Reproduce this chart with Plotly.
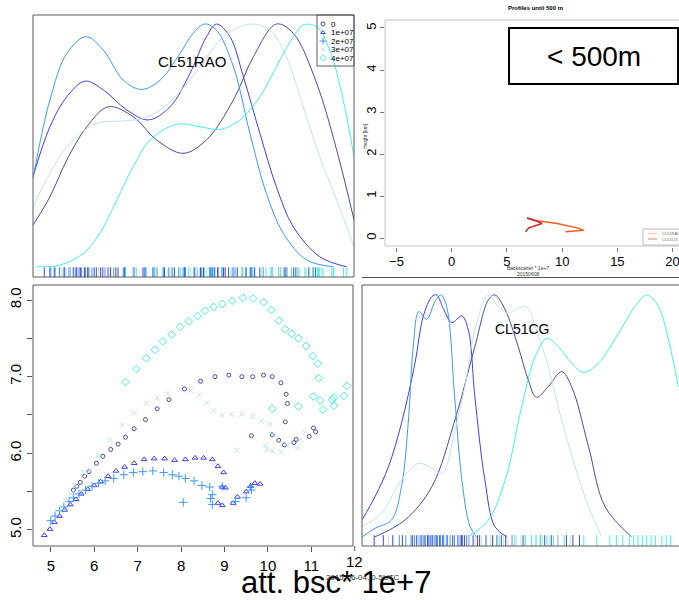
import plotly.graph_objects as go

W, H = 679, 600


def px(x):
    return x / W


def py(y):
    return 1 - y / H


FONT = "Liberation Sans, Arial, sans-serif"

series_names = ["0", "1e+07", "2e+07", "3e+07", "4e+07"]
series_colors = ["#4b4b9e", "#3d3df0", "#3d98f5", "#c4e2ec", "#3ff2f2"]
scatter_symbols = ["circle-open", "triangle-up-open", "cross-thin-open", "x-thin-open", "diamond-open"]
scatter_sizes = [4, 5, 6, 5, 6]

# ---------------- scatter panel (att. bsc * 1e+7) ----------------
s0_x = [5.52, 5.6, 5.68, 5.78, 5.88, 6.05, 6.2, 6.38, 6.55, 6.72, 6.92, 7.18, 7.45, 7.72, 8.08,
        8.45, 8.78, 9.1, 9.4, 9.65, 9.9, 10.1, 10.3, 10.42, 10.45, 10.4, 10.1, 10.25, 10.38,
        10.6, 10.65, 10.95, 11.05, 11.1, 9.62]
s0_y = [5.52, 5.57, 5.62, 5.7, 5.76, 5.87, 5.96, 6.05, 6.12, 6.21, 6.32, 6.44, 6.58, 6.7, 6.84,
        6.94, 7.0, 7.02, 7.0, 7.0, 7.02, 7.0, 6.92, 6.77, 6.65, 6.41, 6.24, 6.17, 6.11,
        6.14, 6.18, 6.22, 6.33, 6.28, 6.23]
s1_x = [4.85, 4.98, 5.08, 5.2, 5.32, 5.45, 5.58, 5.7, 5.85, 6.0, 6.15, 6.32, 6.5, 6.7, 6.92,
        7.15, 7.38, 7.62, 7.85, 8.1, 8.32, 8.52, 8.72, 8.85, 8.98, 8.95, 9.02, 8.85, 8.95,
        9.2, 9.3, 9.5, 9.6, 9.7, 9.82]
s1_y = [4.93, 5.01, 5.1, 5.18, 5.26, 5.33, 5.4, 5.47, 5.53, 5.58, 5.63, 5.7, 5.77, 5.82, 5.87,
        5.92, 5.93, 5.93, 5.91, 5.92, 5.94, 5.94, 5.92, 5.83, 5.75, 5.56, 5.55, 5.35, 5.32,
        5.35, 5.43, 5.5, 5.57, 5.61, 5.6]
s2_x = [5.0, 5.1, 5.2, 5.3, 5.42, 5.52, 5.65, 5.8, 5.95, 6.1, 6.25, 6.45, 6.68, 6.9, 7.12,
        7.35, 7.6, 7.8, 7.95, 8.1, 8.3, 8.48, 8.66, 8.72, 8.68, 8.72, 8.05, 8.95, 9.25, 9.5,
        9.62, 9.6]
s2_y = [5.12, 5.18, 5.25, 5.3, 5.37, 5.42, 5.47, 5.52, 5.57, 5.61, 5.64, 5.67, 5.72, 5.75, 5.76,
        5.77, 5.75, 5.72, 5.7, 5.67, 5.64, 5.58, 5.56, 5.46, 5.41, 5.33, 5.36, 5.57, 5.37, 5.42,
        5.52, 5.56]
s3_x = [5.25, 5.35, 5.45, 5.55, 5.75, 5.9, 6.1, 6.35, 6.65, 6.92, 7.2, 7.45, 7.7, 7.98, 8.22,
        8.42, 8.6, 8.75, 8.95, 9.15, 9.4, 9.65, 9.85, 10.05, 10.1, 9.95, 9.98, 10.1, 10.3,
        10.45, 10.68, 10.75, 10.85, 9.28]
s3_y = [5.28, 5.38, 5.48, 5.58, 5.75, 5.78, 5.97, 6.17, 6.37, 6.53, 6.65, 6.72, 6.78, 6.83, 6.82,
        6.76, 6.66, 6.56, 6.5, 6.51, 6.51, 6.48, 6.42, 6.38, 6.24, 6.1, 6.05, 6.03, 6.02,
        6.1, 6.07, 6.18, 6.27, 6.04]
s4_x = [6.72, 6.97, 7.2, 7.4, 7.58, 7.78, 7.98, 8.18, 8.38, 8.55, 8.75, 8.95, 9.18, 9.42, 9.66,
        9.9, 10.08, 10.25, 10.4, 10.55, 10.7, 10.88, 11.03, 11.15, 11.17, 11.05, 11.2, 11.27,
        11.48, 11.52, 11.52, 11.75, 11.82, 10.1, 10.7]
s4_y = [6.93, 7.1, 7.24, 7.35, 7.46, 7.55, 7.65, 7.72, 7.79, 7.86, 7.91, 7.95, 7.99, 8.03, 8.02,
        7.97, 7.87, 7.73, 7.62, 7.56, 7.5, 7.4, 7.27, 7.17, 6.98, 6.74, 6.69, 6.57,
        6.7, 6.73, 6.62, 6.75, 6.88, 6.58, 6.61]
scatter_x = [s0_x, s1_x, s2_x, s3_x, s4_x]
scatter_y = [s0_y, s1_y, s2_y, s3_y, s4_y]
scatter_xticks = [5, 6, 7, 8, 9, 10, 11, 12]
scatter_yticks = [5.0, 5.5, 6.0, 6.5, 7.0, 7.5, 8.0]
scatter_yticktext = ["5.0", "", "6.0", "", "7.0", "", "8.0"]

# ---------------- CL51RAO densities (scaled to peak 1) ----------------
rao0_x = [4.59, 4.98, 5.37, 5.83, 6.33, 6.9, 7.44, 8.05, 8.59, 9.21, 9.67, 10.2, 10.59, 11.13, 11.59, 11.99]
rao0_y = [0.176, 0.292, 0.443, 0.579, 0.661, 0.62, 0.525, 0.47, 0.525, 0.689, 0.866, 1.0, 0.962, 0.757, 0.484, 0.197]
rao1_x = [4.59, 4.98, 5.37, 5.79, 6.21, 6.75, 7.25, 7.75, 8.21, 8.59, 8.82, 9.13, 9.44, 9.82, 10.2, 10.59, 11.2, 11.82]
rao1_y = [0.374, 0.579, 0.702, 0.766, 0.73, 0.648, 0.607, 0.661, 0.798, 0.948, 1.0, 0.948, 0.784, 0.552, 0.333, 0.169, 0.046, 0.005]
rao2_x = [4.59, 4.98, 5.37, 5.81, 6.21, 6.67, 7.09, 7.52, 7.98, 8.28, 8.55, 8.82, 9.21, 9.59, 9.97, 10.36, 10.9, 11.51]
rao2_y = [0.367, 0.689, 0.88, 0.948, 0.893, 0.77, 0.732, 0.77, 0.88, 0.962, 1.0, 0.975, 0.825, 0.552, 0.306, 0.142, 0.033, 0.005]
rao3_x = [4.59, 4.98, 5.37, 5.83, 6.13, 6.75, 7.13, 7.52, 7.98, 8.44, 8.9, 9.28, 9.67, 10.05, 10.43, 10.82, 11.2, 11.59, 11.99]
rao3_y = [0.251, 0.388, 0.497, 0.572, 0.596, 0.604, 0.613, 0.648, 0.723, 0.825, 0.934, 0.982, 1.0, 0.975, 0.866, 0.661, 0.456, 0.279, 0.087]
rao4_x = [4.66, 5.21, 5.75, 6.13, 6.52, 6.9, 7.29, 7.9, 8.44, 8.9, 9.36, 9.82, 10.28, 10.59, 10.82, 11.13, 11.43, 11.74, 11.99]
rao4_y = [0.005, 0.012, 0.06, 0.142, 0.279, 0.415, 0.525, 0.589, 0.579, 0.568, 0.607, 0.702, 0.852, 0.948, 0.996, 0.989, 0.893, 0.689, 0.456]
rao_x = [rao0_x, rao1_x, rao2_x, rao3_x, rao4_x]
rao_y = [rao0_y, rao1_y, rao2_y, rao3_y, rao4_y]

# ---------------- CL51CG densities (scaled to peak 1) ----------------
cg0_x = [4.89, 5.58, 6.2, 6.73, 7.19, 7.5, 7.65, 7.89, 8.19, 8.42, 8.61, 8.88, 9.19, 9.42, 9.81, 10.19, 10.8]
cg0_y = [0.001, 0.07, 0.208, 0.483, 0.786, 0.979, 1.0, 0.938, 0.786, 0.649, 0.577, 0.621, 0.683, 0.621, 0.373, 0.125, 0.001]
cg1_x = [4.6, 4.89, 5.2, 5.5, 5.81, 6.0, 6.2, 6.31, 6.46, 6.66, 6.89, 7.04, 7.19, 7.42, 7.65, 7.92]
cg1_y = [0.073, 0.167, 0.291, 0.47, 0.718, 0.91, 0.993, 1.0, 0.945, 0.886, 0.913, 0.855, 0.58, 0.236, 0.043, 0.001]
cg2_x = [4.6, 4.89, 5.27, 5.5, 5.66, 5.77, 5.9, 6.08, 6.27, 6.41, 6.54, 6.73, 6.89, 7.08, 7.23]
cg2_y = [0.001, 0.036, 0.07, 0.208, 0.483, 0.786, 0.931, 0.899, 0.972, 1.0, 0.952, 0.566, 0.236, 0.043, 0.001]
cg3_x = [4.6, 5.04, 5.5, 5.89, 6.2, 6.44, 6.73, 6.96, 7.19, 7.5, 7.73, 7.96, 8.19, 8.38, 8.61, 8.88, 9.19, 9.5, 9.81, 10.11]
cg3_y = [0.043, 0.098, 0.236, 0.304, 0.284, 0.263, 0.442, 0.621, 0.855, 1.0, 0.952, 0.924, 0.945, 0.952, 0.855, 0.704, 0.483, 0.291, 0.125, 0.001]
cg4_x = [7.04, 7.5, 7.89, 8.27, 8.58, 8.85, 9.11, 9.42, 9.69, 10.04, 10.5, 10.88, 11.15, 11.42, 11.65, 11.88]
cg4_y = [0.001, 0.07, 0.236, 0.539, 0.745, 0.821, 0.786, 0.718, 0.68, 0.718, 0.842, 0.952, 1.0, 0.952, 0.814, 0.621]
cg_x = [cg0_x, cg1_x, cg2_x, cg3_x, cg4_x]
cg_y = [cg0_y, cg1_y, cg2_y, cg3_y, cg4_y]

cg_rug0 = [6.9, 7.25, 7.45, 7.6, 7.7, 7.8, 7.9, 8.05, 8.3, 8.7, 8.8, 8.95, 9.1, 9.3, 9.45, 9.6]
cg_rug1 = [4.87, 5.08, 5.3, 5.52, 5.75, 5.85, 5.95, 6.02, 6.1, 6.16, 6.22, 6.3, 6.38, 6.45, 6.55,
           6.68, 6.8, 6.88, 6.95, 7.05, 7.15, 7.3, 7.45]
cg_rug2 = [5.45, 5.6, 5.72, 5.8, 5.9, 5.97, 6.05, 6.12, 6.2, 6.27, 6.33, 6.4, 6.47, 6.55, 6.62, 6.72, 6.85, 7.0]
cg_rug3 = [5.2, 5.9, 6.5, 7.05, 7.2, 7.35, 7.45, 7.55, 7.62, 7.72, 7.85, 7.95, 8.05, 8.15, 8.25,
           8.35, 8.5, 8.6, 8.75, 8.9, 9.1, 9.4]
cg_rug4 = [7.75, 8.1, 8.35, 8.5, 8.6, 8.7, 8.85, 9.0, 9.25, 9.7, 10.0, 10.3, 10.45, 10.6, 10.75,
           10.85, 10.95, 11.05, 11.15, 11.25, 11.35, 11.5, 11.6, 11.7]
cg_rug = [cg_rug0, cg_rug1, cg_rug2, cg_rug3, cg_rug4]

# ---------------- profile panel ----------------
prof_low_bsc = [6.68, 6.98, 8.18, 7.73, 6.83]
prof_low_h = [0.15, 0.245, 0.35, 0.40, 0.48]
prof_up_bsc = [6.83, 7.6, 9.54, 11.34, 11.94, 11.19, 10.29]
prof_up_h = [0.48, 0.42, 0.35, 0.245, 0.19, 0.17, 0.15]
prof_xticks = [-5, 0, 5, 10, 15, 20]
prof_yticks = [0, 1, 2, 3, 4, 5]
prof_legend = ["CL51RAO", "CL51CG"]
prof_legend_colors = ["#ffc8c8", "#f2a6a6"]

fig = go.Figure()

for i in range(5):
    col = series_colors[i]
    fig.add_trace(go.Scatter(x=rao_x[i], y=rao_y[i], mode="lines", line=dict(color=col, width=1,
                             shape="spline", smoothing=1.0), xaxis="x", yaxis="y", showlegend=False,
                             hoverinfo="skip"))
    fig.add_trace(go.Scatter(x=scatter_x[i], y=[-0.0205] * len(scatter_x[i]), mode="markers",
                             marker=dict(symbol="line-ns-open", size=8, color=col, line=dict(color=col, width=1)),
                             xaxis="x", yaxis="y", showlegend=False, hoverinfo="skip"))
    fig.add_trace(go.Scatter(x=cg_x[i], y=cg_y[i], mode="lines", line=dict(color=col, width=1,
                             shape="spline", smoothing=1.0), xaxis="x4", yaxis="y4", showlegend=False,
                             hoverinfo="skip"))
    fig.add_trace(go.Scatter(x=cg_rug[i], y=[-0.0186] * len(cg_rug[i]), mode="markers",
                             marker=dict(symbol="line-ns-open", size=9, color=col, line=dict(color=col, width=1)),
                             xaxis="x4", yaxis="y4", showlegend=False, hoverinfo="skip"))
    fig.add_trace(go.Scatter(x=scatter_x[i], y=scatter_y[i], mode="markers",
                             marker=dict(symbol=scatter_symbols[i], size=scatter_sizes[i], color=col,
                                         line=dict(color=col, width=1)),
                             xaxis="x3", yaxis="y3", showlegend=False, hoverinfo="skip"))
    fig.add_trace(go.Scatter(x=[6], y=[9 + 8.5 * i], mode="markers",
                             marker=dict(symbol=scatter_symbols[i], size=max(scatter_sizes[i] - 1, 4),
                                         color=col, line=dict(color=col, width=1)),
                             xaxis="x5", yaxis="y5", showlegend=False, hoverinfo="skip"))

fig.add_trace(go.Scatter(x=prof_up_bsc, y=prof_up_h, mode="lines", line=dict(color="#ff5a1e", width=1.5),
                         xaxis="x2", yaxis="y2", showlegend=False, hoverinfo="skip"))
fig.add_trace(go.Scatter(x=prof_low_bsc, y=prof_low_h, mode="lines", line=dict(color="#d42020", width=1.5),
                         xaxis="x2", yaxis="y2", showlegend=False, hoverinfo="skip"))

hidden = dict(visible=False, fixedrange=True)
tickfont = dict(family=FONT, size=15, color="black")

x3_domain = [px(33), px(353)]
x3_range = [4.59, 11.96]

layout = dict(
    width=W, height=H, margin=dict(l=0, r=0, t=0, b=0),
    paper_bgcolor="white", plot_bgcolor="rgba(0,0,0,0)",
    font=dict(family=FONT, color="black"),
    xaxis=dict(domain=[px(33), px(354)], range=[4.59, 11.99], **hidden),
    yaxis=dict(domain=[py(277), py(15)], range=[-0.0369, 1.037], **hidden),
    xaxis2=dict(domain=[px(385), 1.0], range=[-6.04, 20.58], anchor="y2", tickvals=prof_xticks,
                ticks="outside", ticklen=4, tickcolor="#777", showgrid=False, zeroline=False, showline=False,
                tickfont=dict(family=FONT, size=13), ticklabeloverflow="allow", ticklabelstandoff=-2),
    yaxis2=dict(domain=[py(247), py(20)], range=[-0.21, 5.19], anchor="x2", tickvals=prof_yticks,
                ticks="outside", ticklen=4, tickcolor="#777", showgrid=False, zeroline=False, showline=False,
                tickangle=-90, tickfont=dict(family=FONT, size=13), ticklabelstandoff=-1),
    xaxis3=dict(domain=x3_domain, range=x3_range, anchor="y3", tickvals=scatter_xticks[:-1],
                ticks="outside", ticklen=5, tickcolor="#555", showgrid=False, zeroline=False, showline=False,
                tickfont=tickfont, ticklabelstandoff=1),
    yaxis3=dict(domain=[py(546), py(285)], range=[4.79, 8.196], anchor="x3", tickvals=scatter_yticks,
                ticktext=scatter_yticktext, ticks="outside", ticklen=5, tickcolor="#555", showgrid=False,
                zeroline=False, showline=False, tickangle=-90, tickfont=tickfont),
    xaxis4=dict(domain=[px(362), 1.0], range=[4.59, 11.894], anchor="y4", **hidden),
    yaxis4=dict(domain=[py(546), py(285)], range=[-0.0372, 1.041], anchor="x4", **hidden),
    xaxis5=dict(domain=[px(317), px(354)], range=[0, 37], anchor="y5", **hidden),
    yaxis5=dict(domain=[py(66), py(15)], range=[51, 0], anchor="x5", **hidden),
)

# paper position of the last scatter x tick (just past the axis range), via the axis' own mapping
last_tick = scatter_xticks[-1]
last_tick_paper = x3_domain[0] + (last_tick - x3_range[0]) / (x3_range[1] - x3_range[0]) * (x3_domain[1] - x3_domain[0])


def open_box(x0, y0, y1, color, width=1):
    """Left, top and bottom edges of a box that runs off the right edge of the page."""
    return [
        dict(type="line", xref="paper", yref="paper", x0=px(x0), x1=1.0, y0=py(y0), y1=py(y0),
             line=dict(color=color, width=width)),
        dict(type="line", xref="paper", yref="paper", x0=px(x0), x1=1.0, y0=py(y1), y1=py(y1),
             line=dict(color=color, width=width)),
        dict(type="line", xref="paper", yref="paper", x0=px(x0), x1=px(x0), y0=py(y0), y1=py(y1),
             line=dict(color=color, width=width)),
    ]


shapes = []
box_col = "#5a5a5a"
shapes.append(dict(type="rect", xref="paper", yref="paper", x0=px(33), x1=px(354), y0=py(277), y1=py(15),
                   line=dict(color=box_col, width=1)))
shapes.append(dict(type="rect", xref="paper", yref="paper", x0=px(317), x1=px(354), y0=py(66), y1=py(15),
                   line=dict(color=box_col, width=1)))
shapes.append(dict(type="rect", xref="paper", yref="paper", x0=px(33), x1=px(353), y0=py(546), y1=py(285),
                   line=dict(color=box_col, width=1)))
shapes += open_box(362, 285, 546, box_col)
shapes += open_box(385, 20, 246, "#c4c4c4")
shapes.append(dict(type="line", xref="paper", yref="paper", x0=px(362), x1=1.0, y0=py(277.5), y1=py(277.5),
                   line=dict(color="#555", width=1)))
shapes.append(dict(type="rect", xref="paper", yref="paper", x0=px(509), x1=px(678), y0=py(84), y1=py(28),
                   line=dict(color="black", width=2)))
shapes += open_box(643, 229, 245, "#bbbbbb")
for k in range(2):
    yy = 233.5 + 5.5 * k
    shapes.append(dict(type="line", xref="paper", yref="paper", x0=px(648), x1=px(657), y0=py(yy), y1=py(yy),
                       line=dict(color=prof_legend_colors[k], width=1.5)))
shapes.append(dict(type="line", xref="paper", yref="paper", x0=last_tick_paper, x1=last_tick_paper,
                   y0=py(546), y1=py(551), line=dict(color="#555", width=1)))


def ann(x, y, text, size, color="black", xanchor="center", angle=0, xref="paper", yref="paper"):
    return dict(x=x, y=y, xref=xref, yref=yref, text=text, showarrow=False, xanchor=xanchor,
                yanchor="middle", textangle=angle, font=dict(family=FONT, size=size, color=color))


annotations = []
for i, name in enumerate(series_names):
    annotations.append(ann(12, 9 + 8.5 * i, name, 8, xanchor="left", xref="x5", yref="y5"))
for k, name in enumerate(prof_legend):
    annotations.append(ann(px(660), py(233.5 + 5.5 * k), name, 4, color="#666", xanchor="left"))
annotations += [
    ann(last_tick_paper, py(561), str(last_tick), 15),
    ann(px(192), py(61), "CL51RAO", 15),
    ann(px(522), py(329), "CL51CG", 14),
    ann(px(593.5), py(57), "< 500m", 28),
    ann(px(535), py(8), "<b>Profiles until 500 m</b>", 6),
    ann(px(365), py(136), "Height [km]", 5, color="#333", angle=-90),
    ann(px(528), py(268), "Backscatter * 1e+7", 5, color="#333"),
    ann(px(528), py(273.5), "20150608", 5, color="#333"),
    ann(px(336), py(582), "att. bsc* 1e+7", 31),
    ann(px(363), py(577), "2015-06-04, 0-5UTC", 8, color="#333"),
]

layout["shapes"] = shapes
layout["annotations"] = annotations
fig.update_layout(**layout)
fig.write_html("out.html")
